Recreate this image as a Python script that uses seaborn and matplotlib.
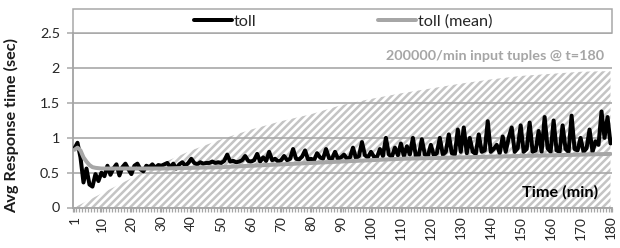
import matplotlib
matplotlib.use("Agg")
import matplotlib.pyplot as plt
import numpy as np
import pandas as pd
import seaborn as sns
from matplotlib.patches import Rectangle

# ---------------- data ----------------
minutes = list(range(1, 181))
toll = [
    0.85, 0.93, 0.72, 0.36, 0.56, 0.33, 0.30, 0.48, 0.38, 0.50,
    0.45, 0.60, 0.47, 0.56, 0.62, 0.46, 0.58, 0.63, 0.55, 0.48,
    0.60, 0.63, 0.55, 0.52, 0.60, 0.58, 0.62, 0.57, 0.61, 0.60,
    0.62, 0.64, 0.58, 0.63, 0.56, 0.62, 0.65, 0.60, 0.64, 0.70,
    0.64, 0.62, 0.65, 0.63, 0.64, 0.64, 0.66, 0.64, 0.65, 0.64,
    0.67, 0.76, 0.66, 0.67, 0.65, 0.66, 0.68, 0.74, 0.67, 0.66,
    0.68, 0.77, 0.66, 0.72, 0.67, 0.80, 0.68, 0.70, 0.66, 0.68,
    0.74, 0.68, 0.70, 0.84, 0.70, 0.69, 0.73, 0.82, 0.69, 0.70,
    0.68, 0.78, 0.72, 0.70, 0.84, 0.71, 0.70, 0.80, 0.70, 0.72,
    0.76, 0.70, 0.72, 0.86, 0.71, 0.74, 0.94, 0.75, 0.72, 0.80,
    0.73, 0.72, 0.84, 0.74, 1.00, 0.76, 0.73, 0.86, 0.75, 0.92,
    0.74, 0.88, 0.76, 1.00, 0.74, 0.75, 0.98, 0.76, 0.74, 0.90,
    0.75, 0.78, 1.00, 0.76, 0.80, 1.05, 0.78, 0.76, 1.12, 0.80,
    1.15, 0.78, 1.00, 0.80, 0.77, 1.05, 0.80, 0.82, 1.24, 0.80,
    0.84, 0.90, 0.78, 1.02, 0.80, 1.00, 1.15, 0.80, 0.85, 1.18,
    0.80, 0.84, 1.22, 0.80, 0.82, 1.10, 0.80, 1.30, 0.85, 0.80,
    1.25, 0.82, 0.80, 1.18, 0.84, 0.80, 1.32, 0.84, 0.82, 1.00,
    0.80, 0.85, 1.12, 0.80, 0.95, 0.90, 1.38, 1.00, 1.30, 0.92,
]
mean_minutes = [1, 2, 3, 4, 5, 6, 7, 8, 10, 15, 20, 30, 40, 50, 60, 70, 80,
                90, 100, 110, 120, 130, 140, 150, 160, 170, 180]
toll_mean = [0.83, 0.86, 0.82, 0.72, 0.66, 0.61, 0.58, 0.57, 0.56, 0.56, 0.56,
             0.56, 0.57, 0.58, 0.60, 0.62, 0.64, 0.66, 0.68, 0.70, 0.71, 0.72,
             0.73, 0.74, 0.75, 0.76, 0.77]
load_minutes = [1, 10, 20, 30, 40, 50, 60, 70, 80, 90, 100, 110, 120, 130,
                140, 150, 160, 170, 180]
load_level = [0.0, 0.20, 0.42, 0.63, 0.82, 0.98, 1.12, 1.24, 1.34, 1.47, 1.56,
              1.64, 1.71, 1.78, 1.84, 1.89, 1.92, 1.95, 1.96]
x_tick_labels = [1, 10, 20, 30, 40, 50, 60, 70, 80, 90, 100, 110, 120, 130,
                 140, 150, 160, 170, 180]
y_ticks = [0, 0.5, 1, 1.5, 2, 2.5]

# ---------------- style ----------------
sns.set_theme(style="white")
plt.rcParams["font.family"] = ["Lato", "DejaVu Sans"]
plt.rcParams["hatch.linewidth"] = 2.0

GRAY = "#A6A6A6"
DPI = 90
W, H = 620, 248
fig = plt.figure(figsize=(W / DPI, H / DPI), dpi=DPI)
L, R, T, B = 73, 612, 33.5, 207.5
ax = fig.add_axes([L / W, 1 - B / H, (R - L) / W, (B - T) / H])

ax.fill_between(load_minutes, 0, load_level, facecolor="white",
                edgecolor="#C4C4C4", hatch="////", linewidth=0, zorder=1)

df = pd.DataFrame({"minute": minutes, "toll": toll})
dm = pd.DataFrame({"minute": mean_minutes, "mean": toll_mean})
sns.lineplot(data=df, x="minute", y="toll", color="black", lw=3.2,
             ax=ax, label="toll", zorder=3)
sns.lineplot(data=dm, x="minute", y="mean", color=GRAY, lw=3.2,
             ax=ax, label="toll (mean)", zorder=4)

ax.set_xlim(0.5, 180.5)
ax.set_ylim(0, 2.5)
ax.set_axisbelow(False)
ax.yaxis.grid(True, color=GRAY, lw=1.3, zorder=2)
ax.xaxis.grid(False)
ax.set_yticks(y_ticks)
ax.set_yticklabels(["0", "0.5", "1", "1.5", "2", "2.5"])
ax.set_xticks(x_tick_labels)
ax.set_xticklabels([str(v) for v in x_tick_labels], rotation=90)
ax.set_xticks(np.arange(0.5, 181, 1), minor=True)
ax.tick_params(axis="x", which="both", length=3.5, width=1, color=GRAY,
               labelsize=11, pad=3, bottom=True, labelcolor="#262626")
ax.tick_params(axis="y", which="major", length=4.5, width=1.2, color=GRAY,
               labelsize=11.5, pad=6, left=True, labelcolor="#262626")

for s in ["top", "right"]:
    ax.spines[s].set_visible(False)
for s in ["left", "bottom"]:
    ax.spines[s].set_color(GRAY)
    ax.spines[s].set_linewidth(1.5)

ax.set_xlabel("")
ax.set_ylabel("Avg Response time (sec)", fontsize=13, fontweight="bold",
              color="#1a1a1a")
ax.yaxis.set_label_coords(-(L - 19) / (R - L), 0.47)

ax.text(178, 2.17, "200000/min input tuples @ t=180", ha="right", va="center",
        color=GRAY, fontsize=11.5, fontweight="bold")
ax.text(176, 0.22, "Time (min)", ha="right", va="center",
        color="black", fontsize=13, fontweight="bold")

# legend box sitting on top of the plot area
box_h = 24 / (B - T)
ax.add_patch(Rectangle((0, 1), 1, box_h, transform=ax.transAxes, fill=False,
                       edgecolor=GRAY, lw=1.2, clip_on=False))
handles, labels = ax.get_legend_handles_labels()
ax.legend_ = None
leg_kw = dict(frameon=False, fontsize=13, handlelength=2.35,
              handletextpad=0.12, borderpad=0, borderaxespad=0,
              loc="center left", labelcolor="#262626")
leg1 = ax.legend([handles[0]], [labels[0]],
                 bbox_to_anchor=((194 - L) / (R - L), 1 + box_h / 2), **leg_kw)
ax.add_artist(leg1)
ax.legend([handles[1]], [labels[1]],
          bbox_to_anchor=((378 - L) / (R - L), 1 + box_h / 2), **leg_kw)

fig.savefig("out.png", dpi=DPI)
